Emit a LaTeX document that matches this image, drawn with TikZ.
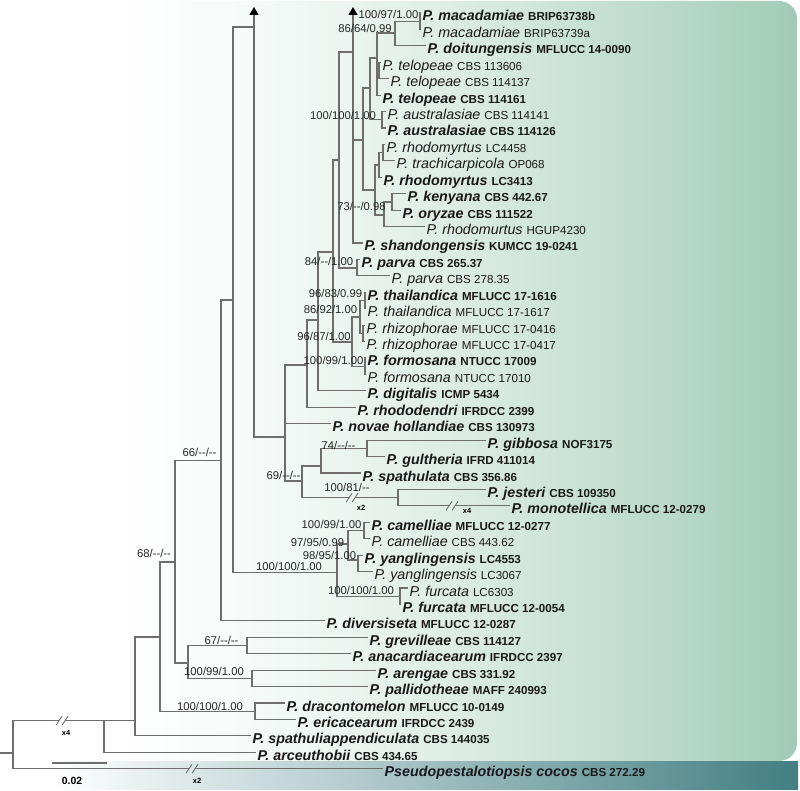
\documentclass[tikz,border=0pt]{standalone}
\usepackage{fontspec}
\setmainfont{Liberation Sans}
\usetikzlibrary{arrows.meta}

\definecolor{branchgray}{RGB}{110,110,110}
\definecolor{mintF}{RGB}{160,203,183}
\definecolor{stripD}{RGB}{66,126,130}

\newcommand{\strain}[1]{{\fontsize{11.6pt}{13pt}\selectfont\upshape #1}}

\begin{document}
\begin{tikzpicture}[x=1pt, y=-1pt,
  branch/.style={draw=branchgray, line width=1.1pt},
  brk/.style={draw=branchgray, line width=0.9pt},
  tip/.style={-{Triangle[width=9pt, length=8pt, color=black]}},
  taxon/.style={anchor=west, inner sep=1.5pt, text height=16pt, text depth=0pt,
    font=\fontsize{14.3pt}{16pt}\selectfont\itshape, text=black!90},
  taxbold/.style={taxon, font=\fontsize{14.3pt}{16pt}\selectfont\bfseries\itshape},
  support/.style={inner sep=0pt, text height=8pt, text depth=0pt,
    font=\fontsize{11.3pt}{12pt}\selectfont, text=black!85},
  brklabel/.style={inner sep=0pt, font=\fontsize{7.5pt}{8pt}\selectfont\bfseries}]

  \useasboundingbox (0,0) rectangle (800,791);
  \fill[white] (0,0) rectangle (800,791);

  % ── background panel: white to mint, in thin bands ────────────────
  \begin{scope}
    \clip[rounded corners=18pt] (-30,1) rectangle (797,761);
    \foreach \x in {100,104,...,796} {
      \pgfmathsetmacro{\p}{min(100,100*pow((\x-100)/697,1.5))}
      \fill[mintF!\p!white] (\x,0) rectangle (\x+4.6,762);
    }
  \end{scope}

  % ── outgroup strip ────────────────────────────────────────────────
  \begin{scope}
    \clip (-30,761) rectangle (798,789);
    \foreach \x in {52,56,...,796} {
      \pgfmathsetmacro{\p}{min(100,(\x-52)/7.45)}
      \fill[stripD!\p!white] (\x,760) rectangle (\x+4.6,790);
    }
  \end{scope}

  % ── taxa (one row every 16.43 px) ────────────────────────────────
  \node[taxbold] (mac1) at (421,13.0)  {P. macadamiae \strain{BRIP63738b}};
  \node[taxon]   (mac2) at (421,29.4)  {P. macadamiae \strain{BRIP63739a}};
  \node[taxbold] (doi)  at (426,45.9)  {P. doitungensis \strain{MFLUCC 14-0090}};
  \node[taxon]   (tel1) at (381,62.3)  {P. telopeae \strain{CBS 113606}};
  \node[taxon]   (tel2) at (389,78.7)  {P. telopeae \strain{CBS 114137}};
  \node[taxbold] (tel3) at (381,95.2)  {P. telopeae \strain{CBS 114161}};
  \node[taxon]   (aus1) at (386,111.6) {P. australasiae \strain{CBS 114141}};
  \node[taxbold] (aus2) at (386,128.0) {P. australasiae \strain{CBS 114126}};
  \node[taxon]   (rho1) at (385,144.4) {P. rhodomyrtus \strain{LC4458}};
  \node[taxon]   (tra)  at (395,160.9) {P. trachicarpicola \strain{OP068}};
  \node[taxbold] (rho2) at (382,177.3) {P. rhodomyrtus \strain{LC3413}};
  \node[taxbold] (ken)  at (406,193.7) {P. kenyana \strain{CBS 442.67}};
  \node[taxbold] (ory)  at (401,210.2) {P. oryzae \strain{CBS 111522}};
  \node[taxon]   (rho3) at (425,226.6) {P. rhodomurtus \strain{HGUP4230}};
  \node[taxbold] (sha)  at (363,243.0) {P. shandongensis \strain{KUMCC 19-0241}};
  \node[taxbold] (par1) at (360,259.5) {P. parva \strain{CBS 265.37}};
  \node[taxon]   (par2) at (390,275.9) {P. parva \strain{CBS 278.35}};
  \node[taxbold] (tha1) at (366,292.3) {P. thailandica \strain{MFLUCC 17-1616}};
  \node[taxon]   (tha2) at (366,308.7) {P. thailandica \strain{MFLUCC 17-1617}};
  \node[taxon]   (rhi1) at (365,325.2) {P. rhizophorae \strain{MFLUCC 17-0416}};
  \node[taxon]   (rhi2) at (365,341.6) {P. rhizophorae \strain{MFLUCC 17-0417}};
  \node[taxbold] (for1) at (366,358.0) {P. formosana \strain{NTUCC 17009}};
  \node[taxon]   (for2) at (366,374.4) {P. formosana \strain{NTUCC 17010}};
  \node[taxbold] (dig)  at (366,390.9) {P. digitalis \strain{ICMP 5434}};
  \node[taxbold] (rhd)  at (356,407.3) {P. rhododendri \strain{IFRDCC 2399}};
  \node[taxbold] (nov)  at (331,423.8) {P. novae hollandiae \strain{CBS 130973}};
  \node[taxbold] (gib)  at (486,440.2) {P. gibbosa \strain{NOF3175}};
  \node[taxbold] (gul)  at (385,456.6) {P. gultheria \strain{IFRD 411014}};
  \node[taxbold] (spa)  at (361,473.0) {P. spathulata \strain{CBS 356.86}};
  \node[taxbold] (jes)  at (486,489.5) {P. jesteri \strain{CBS 109350}};
  \node[taxbold] (mon)  at (510,505.9) {P. monotellica \strain{MFLUCC 12-0279}};
  \node[taxbold] (cam1) at (370,522.3) {P. camelliae \strain{MFLUCC 12-0277}};
  \node[taxon]   (cam2) at (370,538.7) {P. camelliae \strain{CBS 443.62}};
  \node[taxbold] (yan1) at (363,555.2) {P. yanglingensis \strain{LC4553}};
  \node[taxon]   (yan2) at (373,571.6) {P. yanglingensis \strain{LC3067}};
  \node[taxon]   (fur1) at (408,588.0) {P. furcata \strain{LC6303}};
  \node[taxbold] (fur2) at (401,604.4) {P. furcata \strain{MFLUCC 12-0054}};
  \node[taxbold] (div)  at (325,620.9) {P. diversiseta \strain{MFLUCC 12-0287}};
  \node[taxbold] (gre)  at (368,637.3) {P. grevilleae \strain{CBS 114127}};
  \node[taxbold] (ana)  at (351,653.7) {P. anacardiacearum \strain{IFRDCC 2397}};
  \node[taxbold] (are)  at (376,670.1) {P. arengae \strain{CBS 331.92}};
  \node[taxbold] (pal)  at (368,686.6) {P. pallidotheae \strain{MAFF 240993}};
  \node[taxbold] (dra)  at (285,703.0) {P. dracontomelon \strain{MFLUCC 10-0149}};
  \node[taxbold] (eri)  at (296,719.4) {P. ericacearum \strain{IFRDCC 2439}};
  \node[taxbold] (spp)  at (251,735.9) {P. spathuliappendiculata \strain{CBS 144035}};
  \node[taxbold] (arc)  at (256,752.3) {P. arceuthobii \strain{CBS 434.65}};
  \node[taxbold] (pse)  at (383,768.7) {Pseudopestalotiopsis cocos \strain{CBS 272.29}};

  % ── internal nodes ────────────────────────────────────────────────
  \coordinate (stub) at (0,753);
  \coordinate (root) at (13,753);
  \coordinate (kA)   at (104,720.7);
  \coordinate (kB)   at (135,720.7);
  \coordinate (kC)   at (160,637);
  \coordinate (kD)   at (255,711.2);
  \coordinate (kE)   at (175,562);
  \coordinate (kF)   at (188,663);
  \coordinate (kGre) at (247,645.5);
  \coordinate (kAre) at (252,678.4);
  \coordinate (kH)   at (221,460.7);
  \coordinate (kI)   at (233,300);
  \coordinate (kJ)   at (254,27);
  \coordinate (kJtop) at (254,7);
  \coordinate (kM)   at (285,437);
  \coordinate (kN)   at (307,365);
  \coordinate (kO)   at (318,320);
  \coordinate (kP)   at (333,252);
  \coordinate (kQ)   at (339,160);
  \coordinate (kArr) at (353,52);
  \coordinate (kArrtop) at (353,7);
  \coordinate (kW)   at (353,192);
  \coordinate (kV)   at (363,140);
  \coordinate (kU)   at (370,88);
  \coordinate (kT)   at (377,58);
  \coordinate (kTel) at (379,70.5);
  \coordinate (kMD)  at (395,33);
  \coordinate (kMac) at (420,21.2);
  \coordinate (kAus) at (382,119.8);
  \coordinate (kZ)   at (375,190);
  \coordinate (kR2)  at (379,165);
  \coordinate (kR1)  at (383,152.6);
  \coordinate (k73)  at (384,215);
  \coordinate (kKen) at (392,202);
  \coordinate (kPar) at (357,268);
  \coordinate (k96)  at (352,342);
  \coordinate (k86)  at (360,317);
  \coordinate (kTha) at (365,300.5);
  \coordinate (kRhi) at (363,333.4);
  \coordinate (kFor) at (365,366.2);
  \coordinate (k69)  at (302,481);
  \coordinate (k74)  at (321,466);
  \coordinate (kGib) at (367,448.4);
  \coordinate (kJes) at (398,497.7);
  \coordinate (kK)   at (337,572.7);
  \coordinate (k97)  at (348,544);
  \coordinate (kCam) at (364,530.5);
  \coordinate (kYan) at (358,560);
  \coordinate (kFur) at (400,596.2);
  % break points on long branches
  \coordinate (bA1) at (59,720.7);   \coordinate (bA2) at (65,720.7);
  \coordinate (bP1) at (189,768.7);  \coordinate (bP2) at (195,768.7);
  \coordinate (bS1) at (349,497.7);  \coordinate (bS2) at (355,497.7);
  \coordinate (bM1) at (449,505.9);  \coordinate (bM2) at (455,505.9);

  % ── branches ──────────────────────────────────────────────────────
  \draw[branch] (stub) -- (root);
  \draw[branch] (root) |- (bA1);  \draw[branch] (bA2) -- (kA);
  \draw[branch] (root) |- (bP1);  \draw[branch] (bP2) -- (pse.west);
  \draw[branch] (kA) -- (kB);     \draw[branch] (kA) |- (arc.west);
  \draw[branch] (kB) |- (kC);     \draw[branch] (kB) |- (spp.west);
  \draw[branch] (kC) |- (kE);     \draw[branch] (kC) |- (kD);
  \draw[branch] (kD) |- (dra.west); \draw[branch] (kD) |- (eri.west);
  \draw[branch] (kE) |- (kH);     \draw[branch] (kE) |- (kF);
  \draw[branch] (kF) |- (kGre);   \draw[branch] (kF) |- (kAre);
  \draw[branch] (kGre) |- (gre.west); \draw[branch] (kGre) |- (ana.west);
  \draw[branch] (kAre) |- (are.west); \draw[branch] (kAre) |- (pal.west);
  \draw[branch] (kH) |- (kI);     \draw[branch] (kH) |- (div.west);
  \draw[branch] (kI) |- (kJ);     \draw[branch] (kI) |- (kK);
  \draw[branch, tip] (kJ) -- (kJtop);
  \draw[branch] (kJ) |- (kM);
  % camelliae / yanglingensis / furcata
  \draw[branch] (kK) |- (k97);    \draw[branch] (kK) |- (kFur);
  \draw[branch] (k97) |- (kCam);  \draw[branch] (k97) |- (kYan);
  \draw[branch] (kCam) |- (cam1.west); \draw[branch] (kCam) |- (cam2.west);
  \draw[branch] (kYan) |- (yan1.west); \draw[branch] (kYan) |- (yan2.west);
  \draw[branch] (kFur) |- (fur1.west); \draw[branch] (kFur) |- (fur2.west);
  % gibbosa ... monotellica
  \draw[branch] (kM) |- (kN);     \draw[branch] (kM) |- (nov.west);
  \draw[branch] (kM) |- (k69);
  \draw[branch] (k69) |- (k74);
  \draw[branch] (k69) |- (bS1);   \draw[branch] (bS2) -- (kJes);
  \draw[branch] (k74) |- (kGib);  \draw[branch] (k74) |- (spa.west);
  \draw[branch] (kGib) |- (gib.west); \draw[branch] (kGib) |- (gul.west);
  \draw[branch] (kJes) |- (jes.west);
  \draw[branch] (kJes) |- (bM1);  \draw[branch] (bM2) -- (mon.west);
  % upper clade
  \draw[branch] (kN) |- (kO);     \draw[branch] (kN) |- (rhd.west);
  \draw[branch] (kO) |- (kP);     \draw[branch] (kO) |- (dig.west);
  \draw[branch] (kP) |- (kQ);     \draw[branch] (kP) |- (k96);
  \draw[branch] (k96) |- (k86);   \draw[branch] (k96) |- (kFor);
  \draw[branch] (k86) |- (kTha);  \draw[branch] (k86) |- (kRhi);
  \draw[branch] (kTha) |- (tha1.west); \draw[branch] (kTha) |- (tha2.west);
  \draw[branch] (kRhi) |- (rhi1.west); \draw[branch] (kRhi) |- (rhi2.west);
  \draw[branch] (kFor) |- (for1.west); \draw[branch] (kFor) |- (for2.west);
  \draw[branch] (kQ) |- (kArr);   \draw[branch] (kQ) |- (kPar);
  \draw[branch] (kPar) |- (par1.west); \draw[branch] (kPar) |- (par2.west);
  \draw[branch, tip] (kArr) -- (kArrtop);
  \draw[branch] (kArr) -- (kW);
  \draw[branch] (kW) |- (kV);     \draw[branch] (kW) |- (sha.west);
  \draw[branch] (kV) |- (kU);     \draw[branch] (kV) |- (kZ);
  \draw[branch] (kU) |- (kT);     \draw[branch] (kU) |- (kAus);
  \draw[branch] (kT) |- (kMD);    \draw[branch] (kT) |- (kTel);
  \draw[branch] (kT) |- (tel3.west);
  \draw[branch] (kTel) |- (tel1.west); \draw[branch] (kTel) |- (tel2.west);
  \draw[branch] (kMD) |- (kMac);  \draw[branch] (kMD) |- (doi.west);
  \draw[branch] (kMac) |- (mac1.west); \draw[branch] (kMac) |- (mac2.west);
  \draw[branch] (kAus) |- (aus1.west); \draw[branch] (kAus) |- (aus2.west);
  \draw[branch] (kZ) |- (kR2);    \draw[branch] (kZ) |- (k73);
  \draw[branch] (kR2) |- (kR1);   \draw[branch] (kR2) |- (rho2.west);
  \draw[branch] (kR1) |- (rho1.west); \draw[branch] (kR1) |- (tra.west);
  \draw[branch] (k73) |- (kKen);  \draw[branch] (k73) |- (rho3.west);
  \draw[branch] (kKen) |- (ken.west); \draw[branch] (kKen) |- (ory.west);

  % break marks
  \foreach \b in {bA1,bA2,bP1,bP2,bS1,bS2,bM1,bM2}
    \draw[brk] ([shift={(-3pt,-4.5pt)}]\b) -- ([shift={(3pt,4.5pt)}]\b);
  \node[brklabel] (xA) at (66,733) {x4};
  \node[brklabel] (xP) at (197,781) {x2};
  \node[brklabel] (xS) at (361,508) {x2};
  \node[brklabel] (xM) at (467,511) {x4};

  % ── support values ────────────────────────────────────────────────
  \node[support] (sMac) at (388.5,15)  {100/97/1.00};
  \node[support] (sMD)  at (365,29)    {86/64/0.99};
  \node[support] (sAus) at (343,116)   {100/100/1.00};
  \node[support] (s73)  at (361.5,207) {73/-{}-/0.98};
  \node[support] (sPar) at (329,262)   {84/-{}-/1.00};
  \node[support] (sTha) at (335.5,294) {96/83/0.99};
  \node[support] (s86)  at (330.5,310) {86/92/1.00};
  \node[support] (s96)  at (324,337)   {96/87/1.00};
  \node[support] (sFor) at (333.5,360) {100/99/1.00};
  \node[support] (s74)  at (338.5,445) {74/-{}-/-{}-};
  \node[support] (s69)  at (283.5,475) {69/-{}-/-{}-};
  \node[support] (sJes) at (347,487)   {100/81/-{}-};
  \node[support] (sCam) at (331.5,524) {100/99/1.00};
  \node[support] (s97)  at (317.5,542) {97/95/0.99};
  \node[support] (sYan) at (329.5,555) {98/95/1.00};
  \node[support] (sK)   at (289,566)   {100/100/1.00};
  \node[support] (sFur) at (361,590)   {100/100/1.00};
  \node[support] (s66)  at (199.5,452) {66/-{}-/-{}-};
  \node[support] (s68)  at (154,553)   {68/-{}-/-{}-};
  \node[support] (s67)  at (221.5,640) {67/-{}-/-{}-};
  \node[support] (sAre) at (214,671)   {100/99/1.00};
  \node[support] (sD)   at (210,706)   {100/100/1.00};

  % ── scale bar ─────────────────────────────────────────────────────
  \coordinate (sbL) at (52,763);
  \coordinate (sbR) at (107,763);
  \draw[branch, line width=1.6pt] (sbL) -- (sbR);
  \node[inner sep=0pt, font=\fontsize{10.4pt}{11pt}\selectfont\bfseries] (sbtext) at (72,781) {0.02};

\end{tikzpicture}
\end{document}
